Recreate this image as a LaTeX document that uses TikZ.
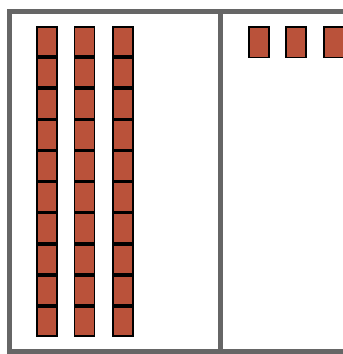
\documentclass[tikz,border=0pt]{standalone}
\definecolor{brick}{RGB}{186,82,58}
\definecolor{framegray}{RGB}{102,102,102}
\tikzset{
  unit/.style={draw=black, fill=brick, line width=1.8pt, minimum width=20pt, minimum height=29.3pt, inner sep=0pt, outer sep=0pt, anchor=north west},
  framebar/.style={draw=framegray, line width=5pt}
}
\begin{document}
\begin{tikzpicture}[x=1pt,y=-1pt]
\useasboundingbox (0,0) rectangle (343,354);
\clip (0,0) rectangle (343,354);
\fill[white] (0,0) rectangle (343,354);
\draw[framebar] (9.5,11) rectangle (370,351);
\draw[framebar] (220.5,11) -- (220.5,351);
\foreach \c/\x in {1/37,2/74.5,3/113}{
  \foreach \r in {1,...,10}{
    \node[unit] (t\c-\r) at (\x,{26.9+(\r-1)*31.1}) {};
  }
}
\foreach \c/\x in {1/249,2/286,3/324}{
  \node[unit, minimum height=30.5pt] (o\c) at (\x,26.9) {};
}
\end{tikzpicture}
\end{document}
